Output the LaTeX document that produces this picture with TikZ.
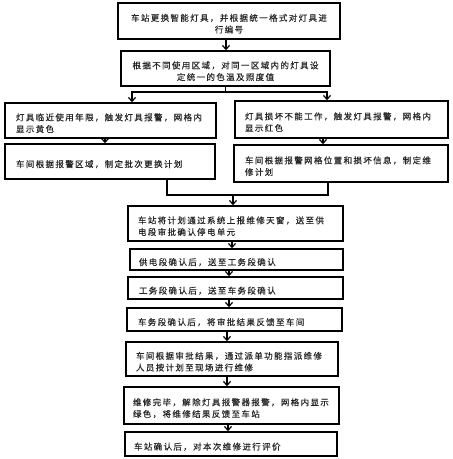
\documentclass[tikz,border=0pt]{standalone}
\usepackage{fontspec}
\setmainfont{Noto Sans CJK SC}[LetterSpace=16,FakeBold=0.3]
\usetikzlibrary{arrows.meta}
\newcommand{\tsh}{\rule{0pt}{12.6pt}}
\tikzset{
 box/.style={draw, line width=1.4pt, rectangle, inner ysep=0pt, font=\fontsize{8.5}{11.7}\selectfont, text=black!85, execute at begin node=\tsh},
 cbox/.style={box, align=center},
 lbox/.style={box, align=left},
 arr/.style={line width=1.2pt, -{Straight Barb[length=4pt,width=7pt]}},
 ln/.style={line width=1.2pt}
}
\begin{document}
\begin{tikzpicture}[x=1pt,y=-1pt]
\fill[white] (0,0) rectangle (453,459);
\useasboundingbox (0,0) rectangle (453,459);
\node[cbox, minimum height=36pt, inner xsep=4pt, text width=214pt] (B1) at (229,21) {车站更换智能灯具，并根据统一格式对灯具进\\行编号};
\node[cbox, minimum height=35pt, inner xsep=4pt, text width=201pt] (B2) at (225.5,68.5) {根据不同使用区域，对同一区域内的灯具设\\定统一的色温及照度值};
\node[lbox, minimum height=35pt, inner xsep=11pt, text width=189pt] (L1) at (110.5,120.5) {灯具临近使用年限，触发灯具报警，网格内\\显示黄色};
\node[lbox, minimum height=35pt, inner xsep=11pt, text width=188pt] (L2) at (110,161.5) {车间根据报警区域，制定批次更换计划};
\node[lbox, minimum height=37pt, inner xsep=10pt, text width=193pt] (R1) at (341.5,119.5) {灯具损坏不能工作，触发灯具报警，网格内\\显示红色};
\node[lbox, minimum height=37pt, inner xsep=11pt, text width=192pt] (R2) at (341,163.5) {车间根据报警网格位置和损坏信息，制定维\\修计划};
\node[lbox, minimum height=35pt, inner xsep=10pt, text width=195pt] (B5) at (235.5,223.5) {车站将计划通过系统上报维修天窗，送至供\\电段审批确认停电单元};
\node[lbox, minimum height=21pt, inner xsep=9pt, text width=195pt] (B6) at (236.5,259.5) {供电段确认后，送至工务段确认};
\node[lbox, minimum height=22pt, inner xsep=11pt, text width=193pt] (B7) at (235.5,288) {工务段确认后，送至车务段确认};
\node[lbox, minimum height=23pt, inner xsep=11pt, text width=193pt] (B8) at (234.5,319.5) {车务段确认后，将审批结果反馈至车间};
\node[lbox, minimum height=34pt, inner xsep=10pt, text width=192pt] (B9) at (232,359) {车间根据审批结果，通过派单功能指派维修\\人员按计划至现场进行维修};
\node[lbox, minimum height=37pt, inner xsep=9pt, text width=197pt] (B10) at (231.5,405.5) {维修完毕，解除灯具报警器报警，网格内显示\\绿色，将维修结果反馈至车站};
\node[lbox, minimum height=24pt, inner xsep=9pt, text width=194pt] (B11) at (231,444) {车站确认后，对本次维修进行评价};
\draw[arr] ([xshift=-3pt]B1.south) -- ([xshift=-3pt]B1.south |- B2.north);
\coordinate (j1) at (225.5,92);
\draw[ln] (B2.south) -- (j1);
\draw[arr] (j1) -| ([xshift=21.5pt]L1.north);
\draw[arr] (j1) -| ([xshift=-14.5pt]R1.north);
\draw[arr] ([xshift=-5.5pt]L1.south) -- ([xshift=-5.5pt]L1.south |- L2.north);
\draw[arr] ([xshift=-18.5pt]R1.south) -- ([xshift=-18.5pt]R1.south |- R2.north);
\coordinate (j2) at (233,195);
\draw[ln] ([xshift=57pt]L2.south) |- (j2) -| ([xshift=-13pt]R2.south);
\draw[arr] (j2) -- (j2 |- B5.north);
\draw[arr] ([xshift=-3.5pt]B5.south) -- ([xshift=-3.5pt]B5.south |- B6.north);
\draw[arr] ([xshift=-7.5pt]B6.south) -- ([xshift=-7.5pt]B6.south |- B7.north);
\draw[arr] ([xshift=-6.5pt]B7.south) -- ([xshift=-6.5pt]B7.south |- B8.north);
\draw[arr] ([xshift=-7.5pt]B8.south) -- ([xshift=-7.5pt]B8.south |- B9.north);
\draw[arr] ([xshift=-5pt]B9.south) -- ([xshift=-5pt]B9.south |- B10.north);
\draw[arr] ([xshift=-3.5pt]B10.south) -- ([xshift=-3.5pt]B10.south |- B11.north);
\end{tikzpicture}
\end{document}
